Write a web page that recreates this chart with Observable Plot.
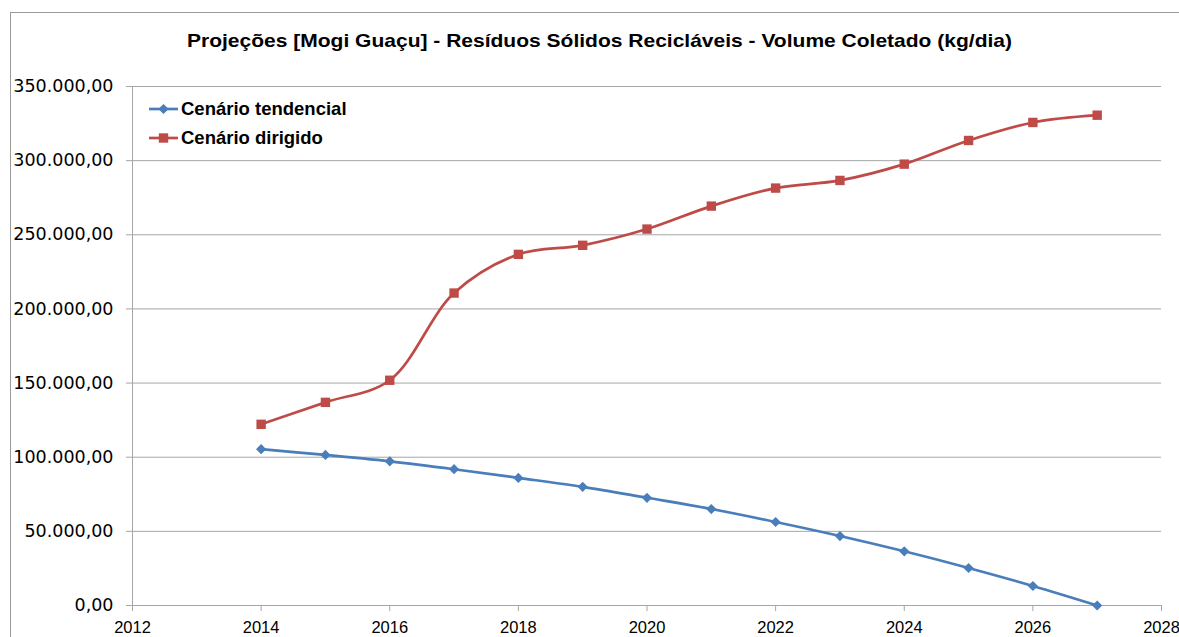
<!DOCTYPE html>
<html>
<head>
<meta charset="utf-8">
<script src="https://cdn.jsdelivr.net/npm/d3@7"></script>
<script src="https://cdn.jsdelivr.net/npm/@observablehq/plot@0.6"></script>
<style>
  html, body { margin: 0; padding: 0; background: #fff; }
  #wrap { position: relative; width: 1179px; height: 637px; overflow: hidden; }
  #wrap > svg { position: absolute; left: 0; top: 0; }
</style>
</head>
<body>
<div id="wrap"></div>
<script>
const titleText = "Projeções [Mogi Guaçu] - Resíduos Sólidos Recicláveis - Volume Coletado (kg/dia)";
const years = [2014, 2015, 2016, 2017, 2018, 2019, 2020, 2021, 2022, 2023, 2024, 2025, 2026, 2027];
const tendencial = [105400, 101550, 97200, 91900, 86050, 80000, 72650, 65050, 56300, 46850, 36550, 25300, 13150, 0];
const dirigido = [122200, 137000, 151900, 210700, 236800, 242900, 253850, 269350, 281500, 286650, 297650, 313600, 325750, 330650];
const seriesNames = ["Cenário tendencial", "Cenário dirigido"];
const seriesColors = ["#4a7ebb", "#be4b48"];
const xTicks = [2012, 2014, 2016, 2018, 2020, 2022, 2024, 2026, 2028];
const yTicks = [0, 50000, 100000, 150000, 200000, 250000, 300000, 350000];

const fmt = d3.formatLocale({decimal: ",", thousands: ".", grouping: [3], currency: ["", ""]}).format(",.2f");

const rowsT = years.map((y, i) => ({year: y, value: tendencial[i]}));
const rowsD = years.map((y, i) => ({year: y, value: dirigido[i]}));
const gridColor = "#a6a6a6";
const rDiamond = 4.6, rSquare = 5.3;

const chart = Plot.plot({
  width: 1179,
  height: 637,
  marginLeft: 132,
  marginRight: 18,
  marginTop: 86,
  marginBottom: 32,
  style: {fontFamily: "DejaVu Sans", fontSize: "17px", color: "#000", background: "transparent", overflow: "visible"},
  x: {domain: [2012, 2028]},
  y: {domain: [0, 350000]},
  marks: [
    Plot.gridY(yTicks, {stroke: gridColor, strokeOpacity: 1, strokeWidth: 1}),
    Plot.ruleX([2012], {stroke: gridColor, strokeWidth: 1}),
    Plot.axisY(yTicks, {tickSize: 6, tickPadding: 13, tickFormat: fmt, stroke: gridColor, fill: "#000", fontSize: 17.5, label: null}),
    Plot.axisX(xTicks, {tickSize: 6, tickPadding: 10, tickFormat: d => String(d), stroke: gridColor, fill: "#000", fontSize: 16.5, fontFamily: "Liberation Sans", label: null}),
    Plot.lineY(rowsT, {x: "year", y: "value", stroke: seriesColors[0], strokeWidth: 2.7, curve: "catmull-rom"}),
    Plot.lineY(rowsD, {x: "year", y: "value", stroke: seriesColors[1], strokeWidth: 2.7, curve: "catmull-rom"}),
    Plot.dot(rowsT, {x: "year", y: "value", symbol: "diamond2", r: rDiamond, fill: seriesColors[0], stroke: "none"}),
    Plot.dot(rowsD, {x: "year", y: "value", symbol: "square", r: rSquare, fill: seriesColors[1], stroke: "none"})
  ]
});

const wrap = document.getElementById("wrap");
wrap.appendChild(chart);

// overlay: border, title, legend
const ov = d3.select(wrap).append("svg")
  .attr("width", 1179).attr("height", 637)
  .style("pointer-events", "none");

ov.append("rect")
  .attr("x", 10.5).attr("y", 12.5).attr("width", 1300).attr("height", 800)
  .attr("fill", "none").attr("stroke", "#9a9a9a").attr("stroke-width", 1);

ov.append("text")
  .attr("x", 599.5).attr("y", 47)
  .attr("text-anchor", "middle")
  .attr("font-family", "Liberation Sans, Arial, sans-serif")
  .attr("font-weight", "bold")
  .attr("font-size", 19)
  .attr("textLength", 825)
  .attr("lengthAdjust", "spacingAndGlyphs")
  .attr("fill", "#000")
  .text(titleText);

const legendSymbols = [d3.symbolDiamond2, d3.symbolSquare];
const legendSizes = [rDiamond * rDiamond * Math.PI, rSquare * rSquare * Math.PI];
seriesNames.forEach((name, i) => {
  const g = ov.append("g").attr("transform", `translate(0, ${109 + i * 29})`);
  g.append("line").attr("x1", 149).attr("x2", 178).attr("y1", 0).attr("y2", 0)
    .attr("stroke", seriesColors[i]).attr("stroke-width", 2.7);
  g.append("path").attr("d", d3.symbol(legendSymbols[i], legendSizes[i])())
    .attr("transform", "translate(163.5,0)").attr("fill", seriesColors[i]);
  g.append("text").attr("x", 181).attr("y", 6)
    .attr("font-family", "Liberation Sans, Arial, sans-serif")
    .attr("font-weight", "bold").attr("font-size", 18.5).attr("fill", "#000")
    .text(name);
});
</script>
</body>
</html>
